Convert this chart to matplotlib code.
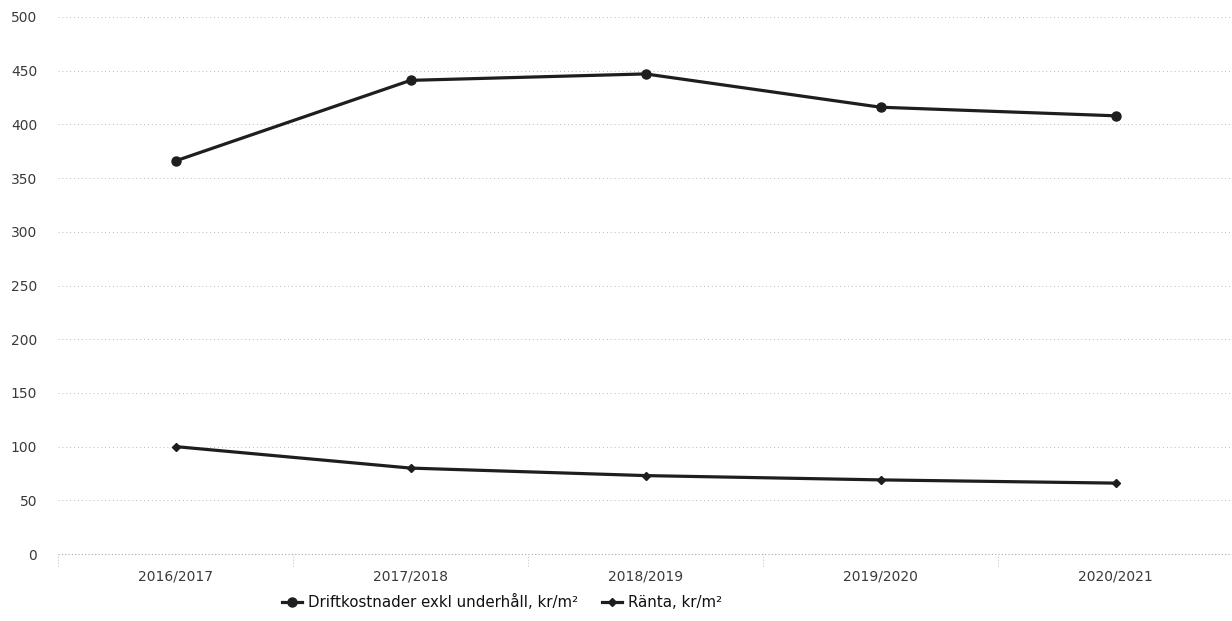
import matplotlib
matplotlib.use("Agg")
import matplotlib.pyplot as plt

# values
years = ["2016/2017", "2017/2018", "2018/2019", "2019/2020", "2020/2021"]
driftkostnader = [366, 441, 447, 416, 408]
ranta = [100, 80, 73, 69, 66]
y_ticks = [0, 50, 100, 150, 200, 250, 300, 350, 400, 450, 500]

plt.rcParams["font.family"] = ["DejaVu Sans"]

fig = plt.figure(figsize=(12.32, 6.21), dpi=100)
ax = fig.add_axes([58 / 1232, 1 - 554 / 621, 1175 / 1232, 537 / 621])

x = list(range(len(years)))
ax.plot(x, driftkostnader, color="#1e1e1e", linewidth=2.3, marker="o",
        markersize=6.5, label="Driftkostnader exkl underhåll, kr/m²", zorder=3)
ax.plot(x, ranta, color="#1e1e1e", linewidth=2.3, marker="D",
        markersize=4.5, label="Ränta, kr/m²", zorder=3)

ax.set_xlim(-0.5, len(years) - 0.5)
ax.set_ylim(0, 500)
ax.set_yticks(y_ticks)
ax.set_xticks(x)
ax.set_xticklabels(years)
ax.tick_params(axis="both", length=0, labelsize=10, colors="#3a3a3a")
ax.tick_params(axis="y", pad=15)
ax.tick_params(axis="x", pad=11)

for s in ax.spines.values():
    s.set_visible(False)
ax.grid(axis="y", color="#b8b8b8", linestyle=(0, (1, 3)), linewidth=0.7)
ax.axhline(0, color="#a8a8a8", linestyle=(0, (1, 2)), linewidth=0.8, clip_on=False)
ax.set_axisbelow(True)

# category separators under the axis
bounds = [i - 0.5 for i in range(len(years) + 1)]
ax.vlines(bounds, -0.022, 0, transform=ax.get_xaxis_transform(),
          colors="#b8b8b8", linestyles=(0, (1, 2)), linewidth=0.7, clip_on=False)

fig.legend(loc="center", bbox_to_anchor=(502 / 1232, 1 - 602 / 621), ncol=2,
           frameon=False, fontsize=10.8, handlelength=1.3, handletextpad=0.4,
           columnspacing=1.6, borderpad=0, labelcolor="#111111")

fig.savefig("out.png", dpi=100)
